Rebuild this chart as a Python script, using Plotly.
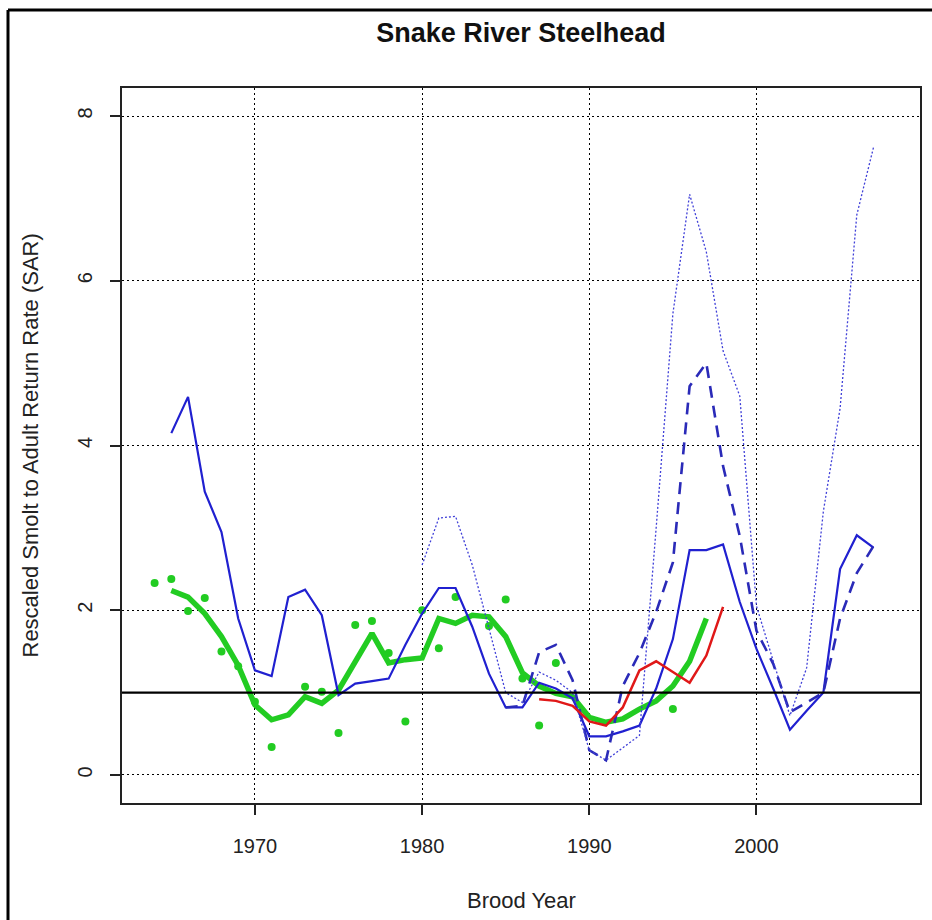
import plotly.graph_objects as go

years_solid = list(range(1965, 2008))
sar_solid = [4.15, 4.59, 3.44, 2.95, 1.90, 1.27, 1.20, 2.16, 2.25, 1.94,
             0.97, 1.11, 1.14, 1.17, 1.58, 1.96, 2.27, 2.27, 1.80, 1.23,
             0.82, 0.82, 1.12, 1.05, 0.93, 0.47, 0.47, 0.53, 0.60, 1.05,
             1.65, 2.73, 2.73, 2.80, 2.10, 1.53, 1.05, 0.55, 0.78, 1.00,
             2.50, 2.91, 2.76]

years_dashed = list(range(1985, 2008))
sar_dashed = [0.82, 0.84, 1.49, 1.58, 1.15, 0.30, 0.18, 1.08, 1.48, 1.98,
              2.58, 4.72, 5.00, 3.75, 2.90, 1.75, 1.35, 0.76, 0.88, 1.00,
              1.90, 2.45, 2.78]

years_dotted = list(range(1980, 2008))
sar_dotted = [2.55, 3.12, 3.14, 2.55, 1.78, 1.00, 0.88, 1.25, 1.15, 1.00,
              0.30, 0.18, 0.33, 0.48, 3.00, 5.60, 7.05, 6.35, 5.15, 4.60,
              2.05, 1.40, 0.72, 1.30, 3.20, 4.45, 6.80, 7.62]

years_green = list(range(1965, 1998))
sar_green_smooth = [2.24, 2.16, 1.96, 1.68, 1.33, 0.85, 0.67, 0.73, 0.95, 0.87,
                    1.03, 1.36, 1.72, 1.36, 1.40, 1.42, 1.90, 1.84, 1.94, 1.92,
                    1.68, 1.24, 1.08, 0.99, 0.95, 0.70, 0.64, 0.68, 0.80, 0.90,
                    1.08, 1.38, 1.90]

years_points = [1964, 1965, 1966, 1967, 1968, 1969, 1970, 1971, 1973, 1974,
                1975, 1976, 1977, 1978, 1979, 1980, 1981, 1982, 1984, 1985,
                1986, 1987, 1988, 1995]
sar_points = [2.33, 2.38, 1.99, 2.15, 1.50, 1.32, 0.89, 0.34, 1.07, 1.01,
              0.51, 1.82, 1.87, 1.48, 0.65, 2.00, 1.54, 2.16, 1.81, 2.13,
              1.17, 0.60, 1.36, 0.80]

years_red = list(range(1987, 1999))
sar_red = [0.92, 0.90, 0.84, 0.65, 0.60, 0.82, 1.27, 1.38, 1.25, 1.12, 1.45, 2.04]

x_ticks = [1970, 1980, 1990, 2000]
y_ticks = [0, 2, 4, 6, 8]
reference_level = 1

title_text = "Snake River Steelhead"
x_title = "Brood Year"
y_title = "Rescaled Smolt to Adult Return Rate (SAR)"

W, H = 932, 920
L, R, T, B = 122, 12, 88, 117
pw, ph = W - L - R, H - T - B

FONT = "Liberation Sans, Arial, Helvetica, sans-serif"

fig = go.Figure()

fig.add_trace(go.Scatter(x=years_points, y=sar_points, mode="markers",
                         marker=dict(color="#22cc22", size=8), showlegend=False))
fig.add_trace(go.Scatter(x=years_green, y=sar_green_smooth, mode="lines",
                         line=dict(color="#22cc22", width=5.5), showlegend=False))
fig.add_trace(go.Scatter(x=years_solid, y=sar_solid, mode="lines",
                         line=dict(color="#2020d0", width=2.2), showlegend=False))
fig.add_trace(go.Scatter(x=years_dashed, y=sar_dashed, mode="lines",
                         line=dict(color="#2a2ab8", width=2.6, dash="12px,8px"),
                         showlegend=False))
fig.add_trace(go.Scatter(x=years_dotted, y=sar_dotted, mode="lines",
                         line=dict(color="#4040d8", width=1.3, dash="2px,2px"),
                         showlegend=False))
fig.add_trace(go.Scatter(x=years_red, y=sar_red, mode="lines",
                         line=dict(color="#e01818", width=2.5), showlegend=False))

# horizontal reference line at SAR = 1
fig.add_shape(type="line", xref="paper", yref="y", x0=0, x1=1,
              y0=reference_level, y1=reference_level,
              line=dict(color="black", width=2.2), layer="above")

# outer image frame (left and top edges)
fx0 = (8 - L) / pw
fy0 = (H - B - 10) / ph
fig.add_shape(type="line", xref="paper", yref="paper", x0=fx0, x1=fx0,
              y0=fy0, y1=-(B + 5) / ph, line=dict(color="black", width=3))
fig.add_shape(type="line", xref="paper", yref="paper", x0=fx0, x1=(W - L + 5) / pw,
              y0=fy0, y1=fy0, line=dict(color="black", width=3))

fig.add_annotation(text=x_title, xref="paper", yref="paper",
                   x=(521 - L) / pw, y=-(900 - (H - B)) / ph,
                   xanchor="center", yanchor="middle", showarrow=False,
                   font=dict(family=FONT, size=22, color="#222"))
fig.add_annotation(text=y_title, xref="paper", yref="paper",
                   x=-(L - 30) / pw, y=0.5, textangle=-90,
                   xanchor="center", yanchor="middle", showarrow=False,
                   font=dict(family=FONT, size=22, color="#222"))

fig.update_layout(
    width=W, height=H,
    margin=dict(l=L, r=R, t=T, b=B, autoexpand=False),
    paper_bgcolor="white", plot_bgcolor="white",
    title=dict(text="<b>" + title_text + "</b>", x=521 / W, xanchor="center",
               y=1 - 33 / H, yanchor="middle", yref="container",
               font=dict(family=FONT, size=27, color="#111")),
    font=dict(family=FONT, color="#222"),
    hovermode=False,
    xaxis=dict(range=[1962.05, 2009.78], tickvals=x_ticks, ticks="outside",
               ticklen=10, tickwidth=1.5, tickcolor="#222",
               showline=True, mirror=True, linecolor="#222", linewidth=2,
               showgrid=True, gridcolor="black", gridwidth=1, griddash="2px,3px",
               zeroline=False, tickfont=dict(size=20, family=FONT, color="#222"),
               ticklabelstandoff=14, automargin=False),
    yaxis=dict(range=[-0.34, 8.34], tickvals=y_ticks, ticks="outside",
               ticklen=10, tickwidth=1.5, tickcolor="#222", tickangle=-90,
               showline=True, mirror=True, linecolor="#222", linewidth=2,
               showgrid=True, gridcolor="black", gridwidth=1, griddash="2px,3px",
               zeroline=False, tickfont=dict(size=20, family=FONT, color="#222"),
               ticklabelstandoff=10, automargin=False),
)

fig.write_html("out.html", config={"displayModeBar": False},
               post_script="document.body.style.margin='0px';document.body.style.overflow='hidden';")
